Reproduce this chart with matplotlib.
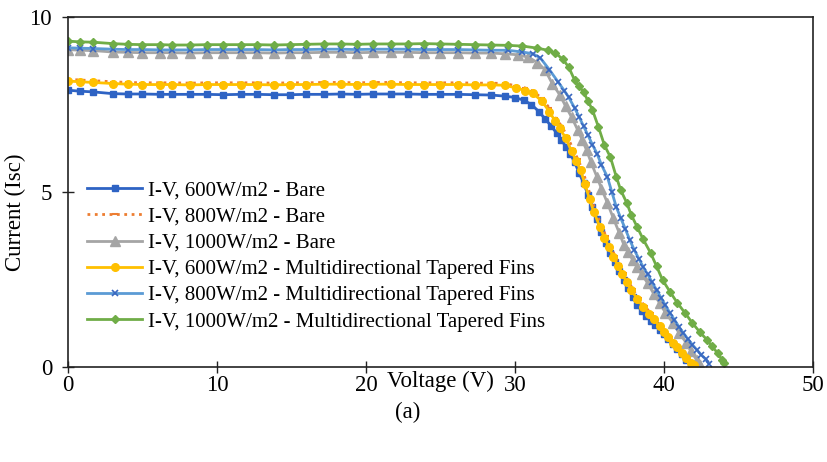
import matplotlib
matplotlib.use("Agg")
import matplotlib.pyplot as plt

plt.rcParams['font.family'] = ['Liberation Serif', 'DejaVu Serif']

# flat part of the curves (shared voltage steps)
v_flat = [0, 0.8, 1.7, 3.0, 4.0, 5.0, 6.2, 7.0, 8.2, 9.3, 10.4, 11.6, 12.7, 13.8,
          14.9, 16.0, 17.2, 18.3, 19.4, 20.5, 21.7, 22.8, 23.9, 25.0, 26.2, 27.3, 28.4]

i600_bare_flat = [7.91, 7.88, 7.86, 7.81, 7.80, 7.80, 7.79, 7.79, 7.79, 7.79, 7.78, 7.79, 7.79, 7.78,
                  7.78, 7.79, 7.79, 7.80, 7.79, 7.80, 7.80, 7.80, 7.79, 7.79, 7.79, 7.78, 7.77]
i800_bare_flat = [8.22, 8.20, 8.18, 8.15, 8.13, 8.12, 8.12, 8.12, 8.11, 8.12, 8.12, 8.12, 8.12, 8.11,
                  8.12, 8.12, 8.13, 8.13, 8.12, 8.13, 8.13, 8.12, 8.12, 8.12, 8.12, 8.11, 8.11]
i1000_bare_flat = [9.07, 9.05, 9.04, 9.00, 8.99, 8.98, 8.98, 8.98, 8.97, 8.98, 8.98, 8.98, 8.98, 8.97,
                   8.98, 8.98, 8.99, 8.99, 8.98, 8.99, 8.99, 8.99, 8.98, 8.98, 8.98, 8.97, 8.97]
i600_fins_flat = [8.17, 8.15, 8.13, 8.10, 8.08, 8.07, 8.07, 8.07, 8.06, 8.07, 8.07, 8.07, 8.07, 8.06,
                  8.07, 8.07, 8.08, 8.08, 8.07, 8.08, 8.08, 8.07, 8.07, 8.07, 8.07, 8.06, 8.06]
i800_fins_flat = [9.12, 9.11, 9.10, 9.08, 9.07, 9.07, 9.06, 9.06, 9.06, 9.07, 9.07, 9.07, 9.07, 9.06,
                  9.07, 9.07, 9.08, 9.08, 9.07, 9.08, 9.08, 9.08, 9.07, 9.07, 9.07, 9.06, 9.05]
i1000_fins_flat = [9.31, 9.29, 9.28, 9.24, 9.22, 9.21, 9.21, 9.20, 9.20, 9.21, 9.21, 9.21, 9.21, 9.20,
                   9.21, 9.22, 9.23, 9.23, 9.22, 9.23, 9.23, 9.23, 9.24, 9.23, 9.22, 9.21, 9.20]

# knee and drop of each curve
v600_bare = [29.3, 30.0, 30.6, 31.1, 31.6, 32.0, 32.4, 32.8, 33.1, 33.4, 33.7, 34.0, 34.3, 34.6, 34.9,
             35.2, 35.5, 35.8, 36.1, 36.4, 36.7, 37.0, 37.3, 37.6, 37.9, 38.2, 38.5, 38.8, 39.1, 39.4,
             39.7, 40.0, 40.3, 40.6, 40.9, 41.2, 41.5, 41.8]
i600_bare = [7.74, 7.70, 7.62, 7.50, 7.30, 7.10, 6.90, 6.68, 6.50, 6.30, 6.10, 5.85, 5.55, 5.25, 4.92,
             4.58, 4.22, 3.85, 3.55, 3.26, 3.00, 2.75, 2.50, 2.25, 2.00, 1.78, 1.60, 1.45, 1.32, 1.20,
             1.07, 0.94, 0.80, 0.66, 0.52, 0.37, 0.21, 0.05]

v800_bare = [29.3, 30.1, 30.7, 31.2, 31.8, 32.3, 32.7, 33.1, 33.5, 33.9, 34.2, 34.5, 34.8, 35.1, 35.4,
             35.8, 36.1, 36.4, 36.7, 37.0, 37.3, 37.6, 37.9, 38.3, 38.7, 39.1, 39.4, 39.8, 40.1, 40.4,
             40.7, 41.0, 41.3, 41.6, 41.9, 42.1]
i800_bare = [8.10, 8.03, 7.97, 7.88, 7.68, 7.40, 7.12, 6.90, 6.60, 6.22, 5.95, 5.66, 5.26, 4.84, 4.46,
             4.04, 3.74, 3.46, 3.18, 2.93, 2.68, 2.45, 2.22, 1.97, 1.74, 1.54, 1.40, 1.18, 1.02, 0.87,
             0.72, 0.57, 0.42, 0.27, 0.13, 0.05]

v1000_bare = [29.3, 30.2, 30.9, 31.5, 32.0, 32.5, 33.0, 33.4, 33.8, 34.2, 34.5, 34.8, 35.1, 35.5, 35.8,
              36.2, 36.6, 37.0, 37.3, 37.6, 37.9, 38.2, 38.5, 38.9, 39.3, 39.7, 40.1, 40.6, 41.0, 41.5,
              41.8, 42.2, 42.4]
i1000_bare = [8.95, 8.92, 8.85, 8.70, 8.50, 8.10, 7.78, 7.45, 7.14, 6.78, 6.50, 6.20, 5.85, 5.43, 5.10,
              4.69, 4.25, 3.83, 3.50, 3.28, 3.06, 2.85, 2.65, 2.40, 2.10, 1.83, 1.55, 1.26, 0.98, 0.69,
              0.45, 0.20, 0.07]

v600_fins = [29.3, 30.1, 30.7, 31.2, 31.8, 32.3, 32.7, 33.0, 33.4, 33.8, 34.1, 34.4, 34.7, 35.0, 35.3,
             35.7, 36.0, 36.3, 36.6, 36.9, 37.2, 37.5, 37.8, 38.2, 38.6, 39.0, 39.3, 39.7, 40.0, 40.3,
             40.6, 40.9, 41.2, 41.5, 41.8, 42.0]
i600_fins = [8.05, 7.97, 7.90, 7.82, 7.60, 7.30, 7.02, 6.82, 6.54, 6.16, 5.90, 5.62, 5.22, 4.80, 4.42,
             4.00, 3.70, 3.42, 3.15, 2.90, 2.65, 2.42, 2.20, 1.95, 1.72, 1.52, 1.38, 1.16, 1.00, 0.85,
             0.70, 0.56, 0.41, 0.26, 0.12, 0.05]

v800_fins = [29.5, 30.5, 31.2, 31.7, 32.3, 32.9, 33.3, 33.6, 34.0, 34.3, 34.6, 34.9, 35.2, 35.5, 35.8,
             36.2, 36.5, 36.8, 37.1, 37.4, 37.7, 38.0, 38.3, 38.6, 38.9, 39.2, 39.5, 39.8, 40.1, 40.4,
             40.7, 41.0, 41.3, 41.6, 41.9, 42.2, 42.5, 42.8, 43.0]
i800_fins = [9.05, 9.00, 8.95, 8.83, 8.50, 8.14, 7.90, 7.71, 7.40, 7.15, 6.88, 6.62, 6.35, 6.10, 5.78,
             5.43, 5.00, 4.57, 4.25, 3.95, 3.63, 3.35, 3.10, 2.86, 2.65, 2.42, 2.20, 1.98, 1.76, 1.54,
             1.35, 1.15, 0.97, 0.80, 0.64, 0.49, 0.35, 0.22, 0.10]

v1000_fins = [29.5, 30.5, 31.5, 32.2, 32.7, 33.2, 33.6, 34.0, 34.3, 34.6, 34.9, 35.2, 35.6, 36.0, 36.4,
              36.8, 37.1, 37.5, 37.8, 38.2, 38.6, 39.1, 39.5, 39.9, 40.4, 40.9, 41.4, 41.9, 42.4, 42.9,
              43.2, 43.6, 43.9, 44.0]
i1000_fins = [9.19, 9.17, 9.11, 9.05, 8.97, 8.80, 8.57, 8.20, 8.02, 7.86, 7.60, 7.34, 6.86, 6.34, 6.00,
              5.43, 5.05, 4.69, 4.35, 4.00, 3.65, 3.26, 2.88, 2.49, 2.15, 1.83, 1.55, 1.26, 1.00, 0.77,
              0.60, 0.40, 0.20, 0.12]

labels = ['I-V, 600W/m2 - Bare',
          'I-V, 800W/m2 - Bare',
          'I-V, 1000W/m2 - Bare',
          'I-V, 600W/m2 - Multidirectional Tapered Fins',
          'I-V, 800W/m2 - Multidirectional Tapered Fins',
          'I-V, 1000W/m2 - Multidirectional Tapered Fins']

series = [
    (v600_bare, i600_bare_flat + i600_bare),
    (v800_bare, i800_bare_flat + i800_bare),
    (v1000_bare, i1000_bare_flat + i1000_bare),
    (v600_fins, i600_fins_flat + i600_fins),
    (v800_fins, i800_fins_flat + i800_fins),
    (v1000_fins, i1000_fins_flat + i1000_fins),
]

styles = [
    dict(color='#2E63C4', marker='s', ms=5, ls='-', mfc='#2E63C4', mec='#2E63C4'),
    dict(color='#ED7D31', marker='_', ms=4, ls=':', mfc='#ED7D31', mec='#ED7D31', mew=1.5),
    dict(color='#A5A5A5', marker='^', ms=7, ls='-', mfc='#A5A5A5', mec='#A5A5A5'),
    dict(color='#FFC000', marker='o', ms=5.5, ls='-', mfc='#FFC000', mec='#FFC000'),
    dict(color='#5B9BD5', marker='x', ms=4.5, ls='-', mfc='#3A68C0', mec='#3A68C0', mew=1.2),
    dict(color='#70AD47', marker='D', ms=4.5, ls='-', mfc='#70AD47', mec='#70AD47'),
]

fig = plt.figure(figsize=(8.28, 4.62), dpi=100)
ax = fig.add_axes([0.0821, 0.2056, 0.8998, 0.7576])

for (v_tail, cur), lab, st in zip(series, labels, styles):
    ax.plot(v_flat + v_tail, cur, lw=2.0, label=lab, **st)

ax.set_xlim(0, 50)
ax.set_ylim(0, 10)
ax.set_xticks([0, 10, 20, 30, 40, 50])
ax.set_yticks([0, 5, 10])
ax.tick_params(direction='inout', length=9, width=1.0, labelsize=16.5, color='#222222')
ax.tick_params(axis='x', pad=1)
ax.tick_params(axis='y', pad=7)
for s in ax.spines.values():
    s.set_linewidth(1.2)
    s.set_color('#222222')

ax.set_xlabel('Voltage (V)', fontsize=16.5)
ax.xaxis.set_label_coords(0.5, -0.01)
ax.set_ylabel('Current (Isc)', fontsize=16.5)
ax.yaxis.set_label_coords(-0.056, 0.443)

ax.legend(loc='upper left', bbox_to_anchor=(0.0255, 0.532), frameon=False, fontsize=15,
          borderpad=0, borderaxespad=0, handlelength=2.65, handletextpad=0.3,
          labelspacing=0.32, numpoints=1)

fig.text(408 / 828, 1 - 412 / 462, '(a)', fontsize=16.5, ha='center', va='center')

fig.savefig('out.png', dpi=100)
